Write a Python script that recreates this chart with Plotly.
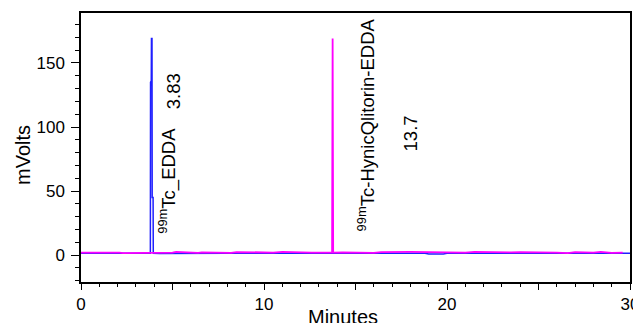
import plotly.graph_objects as go

# Data (minutes, mVolts)
blue_x = [0.0, 2.0, 3.6, 3.79, 3.80, 3.84, 3.85, 3.88, 3.89, 3.94, 3.95, 4.3, 8.0, 12.0,
          15.1, 15.2, 15.4, 15.5, 18.8, 19.0, 19.8, 20.0, 25.2, 25.3, 25.4, 30.0]
blue_y = [1.4, 1.4, 1.4, 1.4, 135.0, 136.0, 169.0, 169.0, 45.0, 45.0, 1.4, 1.2, 1.4, 1.4,
          1.4, 0.9, 0.9, 1.4, 1.4, 0.8, 0.8, 1.4, 1.4, 0.9, 1.4, 1.4]

pink_x = [0.0, 0.8, 1.0, 2.1, 2.3, 3.3, 3.5, 5.0, 5.2, 6.4, 6.6, 8.2, 8.5, 10.5, 11.0, 12.6,
          13.0, 13.72, 13.75, 13.78, 14.3, 16.0, 16.4, 17.5, 18.0, 21.0, 21.5, 23.5, 24.0,
          26.0, 26.6, 27.0, 28.0, 28.4, 29.0, 29.6]
pink_y = [1.9, 1.9, 2.4, 2.0, 1.6, 2.2, 1.8, 2.0, 2.5, 1.8, 2.2, 1.8, 2.4, 2.0, 2.5, 1.9,
          2.1, 1.9, 169.0, 1.9, 2.2, 1.7, 2.4, 2.1, 2.5, 2.0, 2.5, 2.1, 2.4,
          2.0, 1.6, 2.3, 2.0, 2.5, 1.8, 2.0]

x_tickvals = [0, 5, 10, 15, 20, 25, 30]
x_ticktext = ["0", "", "10", "", "20", "", "30"]
y_tickvals = [0, 50, 100, 150]

peak1_label = "<sup>99m</sup>Tc_EDDA"
peak1_time = "3.83"
peak2_label = "<sup>99m</sup>Tc-HynicQlitorin-EDDA"
peak2_time = "13.7"

FONT = "Liberation Sans, Arial, sans-serif"

# page has an 8px body margin, so the figure is drawn offset by (8, 8)
OFF = 8
W, H = 641 - OFF, 323 - OFF
L, R, T, B = 81 - OFF, 11, 13 - OFF, 41
w_plot = W - L - R
h_plot = H - T - B

fig = go.Figure()
fig.add_trace(go.Scatter(x=blue_x, y=blue_y, mode="lines",
                         line=dict(color="#1f1fff", width=1.5), hoverinfo="skip"))
fig.add_trace(go.Scatter(x=pink_x, y=pink_y, mode="lines",
                         line=dict(color="#ff00ff", width=1.8), hoverinfo="skip"))

ann_font = dict(family=FONT, size=18.5, color="black")
fig.add_annotation(x=4.75, y=15, xref="x", yref="y", text=peak1_label, textangle=-90,
                   showarrow=False, xanchor="center", yanchor="bottom", font=ann_font)
fig.add_annotation(x=5.03, y=128, xref="x", yref="y", text=peak1_time, textangle=-90,
                   showarrow=False, xanchor="center", yanchor="middle", font=ann_font)
fig.add_annotation(x=15.55, y=17, xref="x", yref="y", text=peak2_label, textangle=-90,
                   showarrow=False, xanchor="center", yanchor="bottom", font=ann_font)
fig.add_annotation(x=17.98, y=95, xref="x", yref="y", text=peak2_time, textangle=-90,
                   showarrow=False, xanchor="center", yanchor="middle", font=ann_font)


def px_x(p):
    return (p - OFF - L) / w_plot


def px_y(p):
    return (H - B - (p - OFF)) / h_plot


# Axis titles (placed by page pixel position)
fig.add_annotation(x=px_x(23), y=px_y(155), xref="paper", yref="paper",
                   text="mVolts", textangle=-90, showarrow=False,
                   xanchor="center", yanchor="middle",
                   font=dict(family=FONT, size=20, color="black"))
fig.add_annotation(x=px_x(343), y=px_y(304), xref="paper", yref="paper",
                   text="Minutes", showarrow=False, xanchor="center", yanchor="top",
                   font=dict(family=FONT, size=20, color="black"))

fig.update_layout(
    width=W, height=H,
    margin=dict(l=L, r=R, t=T, b=B),
    paper_bgcolor="white", plot_bgcolor="white",
    showlegend=False,
    font=dict(family=FONT, size=17, color="black"),
    xaxis=dict(range=[0, 30], tickvals=x_tickvals, ticktext=x_ticktext, automargin=False,
               ticks="outside", ticklen=6, tickwidth=1, tickcolor="black",
               showline=True, linecolor="black", linewidth=1.5, mirror=True,
               showgrid=False, zeroline=False,
               minor=dict(dtick=1, tick0=0, ticks="outside", ticklen=3,
                          tickcolor="black", showgrid=False)),
    yaxis=dict(range=[-21, 189], tickvals=y_tickvals, automargin=False,
               ticks="outside", ticklen=8, tickwidth=1, tickcolor="black",
               ticklabelstandoff=3,
               showline=True, linecolor="black", linewidth=1.5, mirror=True,
               showgrid=False, zeroline=False,
               minor=dict(dtick=10, tick0=0, ticks="outside", ticklen=4,
                          tickcolor="black", showgrid=False)),
)

fig.write_html("out.html")
